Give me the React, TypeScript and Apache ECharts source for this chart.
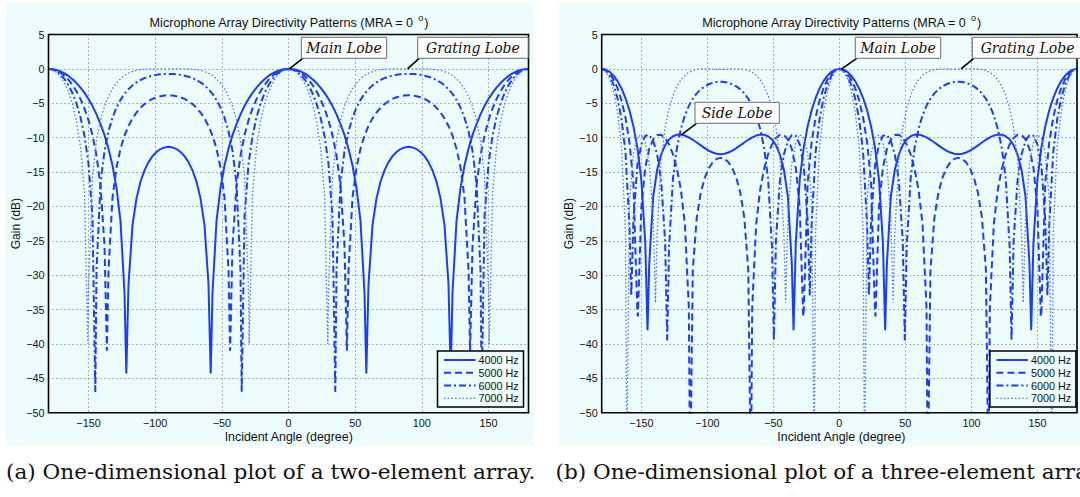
import React, { useEffect, useRef } from "react";
import * as echarts from "echarts";

// Sample angles (degrees)
const ANGLES = [
  -180, -177, -174, -171, -168, -165, -162, -159, -156, -153, -150, -147, -144, -141, -138, -135, -132, -129, -126, -123, -120,
  -117, -114, -111, -108, -105, -102, -99, -96, -93, -90, -87, -84, -81, -78, -75, -72, -69, -66, -63, -60,
  -57, -54, -51, -48, -45, -42, -39, -36, -33, -30, -27, -24, -21, -18, -15, -12, -9, -6, -3, 0,
  3, 6, 9, 12, 15, 18, 21, 24, 27, 30, 33, 36, 39, 42, 45, 48, 51, 54, 57, 60,
  63, 66, 69, 72, 75, 78, 81, 84, 87, 90, 93, 96, 99, 102, 105, 108, 111, 114, 117, 120,
  123, 126, 129, 132, 135, 138, 141, 144, 147, 150, 153, 156, 159, 162, 165, 168, 171, 174, 177, 180,
];

const FREQ_LABELS = ["4000 Hz", "5000 Hz", "6000 Hz", "7000 Hz"];
const TICK_Y = [5, 0, -5, -10, -15, -20, -25, -30, -35, -40, -45, -50];

// ---------- (a) two-element array, gain in dB ----------
const TWO_4000 = [
  0, -0.04, -0.16, -0.37, -0.66, -1.03, -1.5, -2.06, -2.72, -3.49, -4.39, -5.41, -6.61, -8.02, -9.63, -11.61, -14.05, -17.3, -22.15, -32.6, -31.36, -22.73, -18.83, -16.42, -14.76, -13.56, -12.69, -12.08, -11.66, -11.42, -11.34,
  -11.42, -11.66, -12.08, -12.69, -13.56, -14.76, -16.42, -18.83, -22.73, -31.36, -32.6, -22.15, -17.3, -14.05, -11.61, -9.63, -8.02, -6.61, -5.41, -4.39, -3.49, -2.72, -2.06, -1.5, -1.03, -0.66, -0.37, -0.16, -0.04, 0,
  -0.04, -0.16, -0.37, -0.66, -1.03, -1.5, -2.06, -2.72, -3.49, -4.39, -5.41, -6.61, -8.02, -9.63, -11.61, -14.05, -17.3, -22.15, -32.6, -31.36, -22.73, -18.83, -16.42, -14.76, -13.56, -12.69, -12.08, -11.66, -11.42, -11.34,
  -11.42, -11.66, -12.08, -12.69, -13.56, -14.76, -16.42, -18.83, -22.73, -31.36, -32.6, -22.15, -17.3, -14.05, -11.61, -9.63, -8.02, -6.61, -5.41, -4.39, -3.49, -2.72, -2.06, -1.5, -1.03, -0.66, -0.37, -0.16, -0.04, 0,
];
const TWO_5000 = [
  0, -0.06, -0.25, -0.56, -1.01, -1.59, -2.34, -3.26, -4.4, -5.77, -7.48, -9.67, -12.61, -16.97, -25.71, -29.28, -18.72, -14.33, -11.61, -9.71, -8.3, -7.2, -6.34, -5.66, -5.12, -4.7, -4.37, -4.13, -3.97, -3.87, -3.84,
  -3.87, -3.97, -4.13, -4.37, -4.7, -5.12, -5.66, -6.34, -7.2, -8.3, -9.71, -11.61, -14.33, -18.72, -29.28, -25.71, -16.97, -12.61, -9.67, -7.48, -5.77, -4.4, -3.26, -2.34, -1.59, -1.01, -0.56, -0.25, -0.06, 0,
  -0.06, -0.25, -0.56, -1.01, -1.59, -2.34, -3.26, -4.4, -5.77, -7.48, -9.67, -12.61, -16.97, -25.71, -29.28, -18.72, -14.33, -11.61, -9.71, -8.3, -7.2, -6.34, -5.66, -5.12, -4.7, -4.37, -4.13, -3.97, -3.87, -3.84,
  -3.87, -3.97, -4.13, -4.37, -4.7, -5.12, -5.66, -6.34, -7.2, -8.3, -9.71, -11.61, -14.33, -18.72, -29.28, -25.71, -16.97, -12.61, -9.67, -7.48, -5.77, -4.4, -3.26, -2.34, -1.59, -1.01, -0.56, -0.25, -0.06, 0,
];
const TWO_6000 = [
  0, -0.09, -0.36, -0.82, -1.48, -2.38, -3.55, -5.06, -7.05, -9.75, -13.81, -21.54, -29.4, -16.67, -11.93, -9.07, -7.1, -5.63, -4.51, -3.63, -2.95, -2.4, -1.97, -1.62, -1.35, -1.14, -0.99, -0.87, -0.79, -0.75, -0.73,
  -0.75, -0.79, -0.87, -0.99, -1.14, -1.35, -1.62, -1.97, -2.4, -2.95, -3.63, -4.51, -5.63, -7.1, -9.07, -11.93, -16.67, -29.4, -21.54, -13.81, -9.75, -7.05, -5.06, -3.55, -2.38, -1.48, -0.82, -0.36, -0.09, 0,
  -0.09, -0.36, -0.82, -1.48, -2.38, -3.55, -5.06, -7.05, -9.75, -13.81, -21.54, -29.4, -16.67, -11.93, -9.07, -7.1, -5.63, -4.51, -3.63, -2.95, -2.4, -1.97, -1.62, -1.35, -1.14, -0.99, -0.87, -0.79, -0.75, -0.73,
  -0.75, -0.79, -0.87, -0.99, -1.14, -1.35, -1.62, -1.97, -2.4, -2.95, -3.63, -4.51, -5.63, -7.1, -9.07, -11.93, -16.67, -29.4, -21.54, -13.81, -9.75, -7.05, -5.06, -3.55, -2.38, -1.48, -0.82, -0.36, -0.09, 0,
];
const TWO_7000 = [
  0, -0.12, -0.49, -1.13, -2.07, -3.37, -5.16, -7.64, -11.38, -18.26, -32.32, -15.61, -10.47, -7.48, -5.45, -3.99, -2.89, -2.07, -1.44, -0.96, -0.63, -0.39, -0.23, -0.12, -0.05, -0.02, 0, 0, 0, -0.01, -0.01,
  -0.01, 0, 0, 0, -0.02, -0.05, -0.12, -0.23, -0.39, -0.63, -0.96, -1.44, -2.07, -2.89, -3.99, -5.45, -7.48, -10.47, -15.61, -32.32, -18.26, -11.38, -7.64, -5.16, -3.37, -2.07, -1.13, -0.49, -0.12, 0,
  -0.12, -0.49, -1.13, -2.07, -3.37, -5.16, -7.64, -11.38, -18.26, -32.32, -15.61, -10.47, -7.48, -5.45, -3.99, -2.89, -2.07, -1.44, -0.96, -0.63, -0.39, -0.23, -0.12, -0.05, -0.02, 0, 0, 0, -0.01, -0.01,
  -0.01, 0, 0, 0, -0.02, -0.05, -0.12, -0.23, -0.39, -0.63, -0.96, -1.44, -2.07, -2.89, -3.99, -5.45, -7.48, -10.47, -15.61, -32.32, -18.26, -11.38, -7.64, -5.16, -3.37, -2.07, -1.13, -0.49, -0.12, 0,
];
// deepest points of the nulls
const TWO_4000_NULL_ANGLES = [-121.65, -58.35, 58.35, 121.65];
const TWO_4000_NULL_GAIN = [-44.3, -44.3, -44.3, -44.3];
const TWO_5000_NULL_ANGLES = [-136.2, -43.8, 43.8, 136.2];
const TWO_5000_NULL_GAIN = [-41, -41, -41, -41];
const TWO_6000_NULL_ANGLES = [-144.9, -35.1, 35.1, 144.9];
const TWO_6000_NULL_GAIN = [-47, -47, -47, -47];
const TWO_7000_NULL_ANGLES = [-150.5, -29.5, 29.5, 150.5];
const TWO_7000_NULL_GAIN = [-40, -40, -40, -40];

// ---------- (b) three-element array, gain in dB ----------
const THREE_4000 = [
  0, -0.11, -0.43, -0.99, -1.78, -2.85, -4.24, -6.02, -8.33, -11.45, -16.09, -25.34, -28.39, -18.57, -14.67, -12.47, -11.11, -10.26, -9.79, -9.57, -9.56, -9.7, -9.96, -10.31, -10.71, -11.12, -11.53, -11.88, -12.16, -12.34, -12.4,
  -12.34, -12.16, -11.88, -11.53, -11.12, -10.71, -10.31, -9.96, -9.7, -9.56, -9.57, -9.79, -10.26, -11.11, -12.47, -14.67, -18.57, -28.39, -25.34, -16.09, -11.45, -8.33, -6.02, -4.24, -2.85, -1.78, -0.99, -0.43, -0.11, 0,
  -0.11, -0.43, -0.99, -1.78, -2.85, -4.24, -6.02, -8.33, -11.45, -16.09, -25.34, -28.39, -18.57, -14.67, -12.47, -11.11, -10.26, -9.79, -9.57, -9.56, -9.7, -9.96, -10.31, -10.71, -11.12, -11.53, -11.88, -12.16, -12.34, -12.4,
  -12.34, -12.16, -11.88, -11.53, -11.12, -10.71, -10.31, -9.96, -9.7, -9.56, -9.57, -9.79, -10.26, -11.11, -12.47, -14.67, -18.57, -28.39, -25.34, -16.09, -11.45, -8.33, -6.02, -4.24, -2.85, -1.78, -0.99, -0.43, -0.11, 0,
];
const THREE_5000 = [
  0, -0.17, -0.67, -1.53, -2.81, -4.6, -7.08, -10.65, -16.53, -35.5, -20.16, -14.34, -11.64, -10.24, -9.63, -9.59, -10.05, -10.99, -12.44, -14.54, -17.61, -22.56, -34.71, -29.21, -21.63, -18.04, -15.88, -14.48, -13.59, -13.09, -12.94,
  -13.09, -13.59, -14.48, -15.88, -18.04, -21.63, -29.21, -34.71, -22.56, -17.61, -14.54, -12.44, -10.99, -10.05, -9.59, -9.63, -10.24, -11.64, -14.34, -20.16, -35.5, -16.53, -10.65, -7.08, -4.6, -2.81, -1.53, -0.67, -0.17, 0,
  -0.17, -0.67, -1.53, -2.81, -4.6, -7.08, -10.65, -16.53, -35.5, -20.16, -14.34, -11.64, -10.24, -9.63, -9.59, -10.05, -10.99, -12.44, -14.54, -17.61, -22.56, -34.71, -29.21, -21.63, -18.04, -15.88, -14.48, -13.59, -13.09, -12.94,
  -13.09, -13.59, -14.48, -15.88, -18.04, -21.63, -29.21, -34.71, -22.56, -17.61, -14.54, -12.44, -10.99, -10.05, -9.59, -9.63, -10.24, -11.64, -14.34, -20.16, -35.5, -16.53, -10.65, -7.08, -4.6, -2.81, -1.53, -0.67, -0.17, 0,
];
const THREE_6000 = [
  0, -0.24, -0.99, -2.29, -4.3, -7.31, -12.12, -22.67, -22.08, -14, -10.97, -9.73, -9.62, -10.47, -12.43, -16.16, -24.91, -25.93, -15.91, -11.47, -8.7, -6.78, -5.38, -4.34, -3.56, -2.98, -2.55, -2.24, -2.03, -1.91, -1.88,
  -1.91, -2.03, -2.24, -2.55, -2.98, -3.56, -4.34, -5.38, -6.78, -8.7, -11.47, -15.91, -25.93, -24.91, -16.16, -12.43, -10.47, -9.62, -9.73, -10.97, -14, -22.08, -22.67, -12.12, -7.31, -4.3, -2.29, -0.99, -0.24, 0,
  -0.24, -0.99, -2.29, -4.3, -7.31, -12.12, -22.67, -22.08, -14, -10.97, -9.73, -9.62, -10.47, -12.43, -16.16, -24.91, -25.93, -15.91, -11.47, -8.7, -6.78, -5.38, -4.34, -3.56, -2.98, -2.55, -2.24, -2.03, -1.91, -1.88,
  -1.91, -2.03, -2.24, -2.55, -2.98, -3.56, -4.34, -5.38, -6.78, -8.7, -11.47, -15.91, -25.93, -24.91, -16.16, -12.43, -10.47, -9.62, -9.73, -10.97, -14, -22.08, -22.67, -12.12, -7.31, -4.3, -2.29, -0.99, -0.24, 0,
];
const THREE_7000 = [
  0, -0.33, -1.36, -3.21, -6.21, -11.28, -23.65, -19.08, -12.33, -10, -9.58, -10.7, -13.78, -21.75, -23.94, -13.2, -8.58, -5.75, -3.85, -2.52, -1.59, -0.94, -0.51, -0.25, -0.09, -0.02, 0, -0.01, -0.03, -0.05, -0.05,
  -0.05, -0.03, -0.01, 0, -0.02, -0.09, -0.25, -0.51, -0.94, -1.59, -2.52, -3.85, -5.75, -8.58, -13.2, -23.94, -21.75, -13.78, -10.7, -9.58, -10, -12.33, -19.08, -23.65, -11.28, -6.21, -3.21, -1.36, -0.33, 0,
  -0.33, -1.36, -3.21, -6.21, -11.28, -23.65, -19.08, -12.33, -10, -9.58, -10.7, -13.78, -21.75, -23.94, -13.2, -8.58, -5.75, -3.85, -2.52, -1.59, -0.94, -0.51, -0.25, -0.09, -0.02, 0, -0.01, -0.03, -0.05, -0.05,
  -0.05, -0.03, -0.01, 0, -0.02, -0.09, -0.25, -0.51, -0.94, -1.59, -2.52, -3.85, -5.75, -8.58, -13.2, -23.94, -21.75, -13.78, -10.7, -9.58, -10, -12.33, -19.08, -23.65, -11.28, -6.21, -3.21, -1.36, -0.33, 0,
];
const THREE_4000_NULL_ANGLES = [-145.3, -34.7, 34.7, 145.3];
const THREE_4000_NULL_GAIN = [-38, -38, -38, -38];
const THREE_5000_NULL_ANGLES = [-152.6, -113, -67, -27.4, 27.4, 67, 113, 152.6];
const THREE_5000_NULL_GAIN = [-36, -60, -60, -36, -36, -60, -60, -36];
const THREE_6000_NULL_ANGLES = [-157.6, -130.4, -49.6, -22.4, 22.4, 49.6, 130.4, 157.6];
const THREE_6000_NULL_GAIN = [-33, -39.5, -39.5, -33, -33, -39.5, -39.5, -33];
const THREE_7000_NULL_ANGLES = [-160.96, -139.27, -40.73, -19.04, 19.04, 40.73, 139.27, 160.96];
const THREE_7000_NULL_GAIN = [-58, -34, -34, -58, -58, -34, -34, -58];

const BLUE = "#1b3cff";
const LIGHT_BLUE = "#4f70ff";
const PANEL = "#edfdfd";
const SANS = "Liberation Sans, Arial, Helvetica, sans-serif";
const SERIF = "DejaVu Serif, serif";

function buildData(gains: number[], nullAngles: number[], nullGains: number[]) {
  const pts: number[][] = ANGLES.map((a, i) => [a, gains[i]]);
  nullAngles.forEach((a, i) => pts.push([a, nullGains[i]]));
  pts.sort((p, q) => p[0] - q[0]);
  return pts;
}

const LINE_STYLES = [
  { type: "solid" as any, width: 2, color: BLUE },
  { type: [7, 4] as any, width: 2, color: BLUE },
  { type: [7, 3, 2, 3] as any, width: 2, color: BLUE },
  { type: [1.5, 2.2] as any, width: 1.3, color: LIGHT_BLUE },
];

const fmt = (v: number) => (Math.abs(v) === 180 ? "" : v < 0 ? "\u2212" + Math.abs(v) : String(v));

function panelGraphics(dx: number, cap: string, plotCx: number, yLabelX: number) {
  const els: any[] = [];
  // title
  els.push({
    type: "text",
    x: plotCx,
    y: 22.5,
    z: 50,
    style: {
      text: "{n|Microphone Array Directivity Patterns (MRA = 0 }{s|o}{n|)}",
      textAlign: "center",
      textVerticalAlign: "middle",
      rich: {
        n: { fontSize: 12.6, fontFamily: SANS, fill: "#111" },
        s: { fontSize: 9, fontFamily: SANS, fill: "#111", padding: [0, 1, 9, 1] },
      },
    },
  });
  // axis names
  els.push({
    type: "text",
    x: plotCx,
    y: 436.5,
    z: 50,
    style: { text: "Incident Angle (degree)", fontSize: 12.4, fontFamily: SANS, fill: "#111", textAlign: "center", textVerticalAlign: "middle" },
  });
  els.push({
    type: "text",
    x: yLabelX,
    y: 223.6,
    rotation: Math.PI / 2,
    z: 50,
    style: { text: "Gain (dB)", fontSize: 12, fontFamily: SANS, fill: "#111", textAlign: "center", textVerticalAlign: "middle" },
  });
  // legend
  const lx = 437.5 + dx;
  els.push({ type: "rect", z: 60, shape: { x: lx, y: 351, width: 86, height: 56 }, style: { fill: PANEL, stroke: "#000", lineWidth: 1.5 } });
  const rows = [360, 372.8, 385.6, 398.4];
  FREQ_LABELS.forEach((lab, i) => {
    const ls = LINE_STYLES[i];
    els.push({
      type: "line",
      z: 61,
      shape: { x1: lx + 6.5, y1: rows[i], x2: lx + 38, y2: rows[i] },
      style: { stroke: ls.color, lineWidth: ls.width, lineDash: Array.isArray(ls.type) ? ls.type : null },
    });
    els.push({
      type: "text",
      z: 61,
      x: lx + 41,
      y: rows[i],
      style: { text: lab, fontSize: 10.8, fontFamily: SANS, fill: "#111", textAlign: "left", textVerticalAlign: "middle" },
    });
  });
  // caption
  els.push({
    type: "text",
    x: dx === 0 ? 6 : 555.5,
    y: 472,
    z: 50,
    scaleX: 1.08,
    style: { text: cap, fontSize: 20, fontFamily: SERIF, fill: "#111", textAlign: "left", textVerticalAlign: "middle" },
  });
  return els;
}

function callout(bx: number, by: number, bw: number, label: string, tx: number, ty: number) {
  return [
    { type: "line", z: 70, shape: { x1: bx + 1.5, y1: by + 21, x2: tx, y2: ty }, style: { stroke: "#000", lineWidth: 1.6 } },
    { type: "rect", z: 71, shape: { x: bx, y: by, width: bw, height: 21 }, style: { fill: "#ffffff", stroke: "#6b6b6b", lineWidth: 1 } },
    {
      type: "text",
      z: 72,
      x: bx + bw / 2,
      y: by + 10.8,
      style: { text: label, fontSize: 14, fontStyle: "italic", fontFamily: SERIF, fill: "#111", textAlign: "center", textVerticalAlign: "middle" },
    },
  ];
}

function axisPair(gridIndex: number) {
  const x = {
    type: "value",
    gridIndex,
    min: -180,
    max: 180,
    splitNumber: 7,
    axisLine: { show: false },
    axisTick: { show: false },
    axisLabel: { formatter: fmt, fontSize: 10.8, fontFamily: SANS, color: "#111", margin: 5 },
    splitLine: { show: true, lineStyle: { type: [1, 3], color: "#666666", width: 1 } },
  };
  const y = {
    type: "value",
    gridIndex,
    min: TICK_Y[TICK_Y.length - 1],
    max: TICK_Y[0],
    interval: 5,
    axisLine: { show: false },
    axisTick: { show: false },
    axisLabel: { formatter: fmt, fontSize: 10.8, fontFamily: SANS, color: "#111", margin: 4 },
    splitLine: { show: true, lineStyle: { type: [1, 3], color: "#666666", width: 1 } },
  };
  return { x, y };
}

export default function App() {
  const ref = useRef<HTMLDivElement>(null);
  useEffect(() => {
    if (!ref.current) return;
    const chart = echarts.init(ref.current, undefined, { renderer: "svg" });
    const a0 = axisPair(0);
    const a1 = axisPair(1);
    const twoSets = [
      buildData(TWO_4000, TWO_4000_NULL_ANGLES, TWO_4000_NULL_GAIN),
      buildData(TWO_5000, TWO_5000_NULL_ANGLES, TWO_5000_NULL_GAIN),
      buildData(TWO_6000, TWO_6000_NULL_ANGLES, TWO_6000_NULL_GAIN),
      buildData(TWO_7000, TWO_7000_NULL_ANGLES, TWO_7000_NULL_GAIN),
    ];
    const threeSets = [
      buildData(THREE_4000, THREE_4000_NULL_ANGLES, THREE_4000_NULL_GAIN),
      buildData(THREE_5000, THREE_5000_NULL_ANGLES, THREE_5000_NULL_GAIN),
      buildData(THREE_6000, THREE_6000_NULL_ANGLES, THREE_6000_NULL_GAIN),
      buildData(THREE_7000, THREE_7000_NULL_ANGLES, THREE_7000_NULL_GAIN),
    ];
    const series: any[] = [];
    [twoSets, threeSets].forEach((sets, gi) => {
      sets.forEach((data, i) => {
        series.push({
          type: "line",
          name: FREQ_LABELS[i],
          xAxisIndex: gi,
          yAxisIndex: gi,
          data,
          showSymbol: false,
          symbol: "none",
          clip: true,
          lineStyle: { ...LINE_STYLES[i] },
          emphasis: { disabled: true },
          z: 3,
        });
      });
    });
    const graphics: any[] = [
      { type: "rect", z: -10, shape: { x: 6, y: 3, width: 527, height: 443 }, style: { fill: PANEL } },
      { type: "rect", z: -10, shape: { x: 559, y: 3, width: 530, height: 443 }, style: { fill: PANEL } },
      ...panelGraphics(0, "(a) One-dimensional plot of a two-element array.", 288.7, 16),
      ...panelGraphics(552.4, "(b) One-dimensional plot of a three-element array.", 841.4, 569),
      ...callout(301.3, 37.3, 85.4, "Main Lobe", 289.3, 68.9),
      ...callout(417.7, 37.3, 110.5, "Grating Lobe", 407.5, 68.9),
      ...callout(855.3, 37.3, 85.4, "Main Lobe", 841.7, 68.9),
      ...callout(972.3, 37.3, 110.5, "Grating Lobe", 961, 68.9),
      ...callout(695, 102.3, 84.3, "Side Lobe", 681.7, 134.6),
    ];
    chart.setOption({
      animation: false,
      backgroundColor: "#ffffff",
      grid: [
        { left: 48.5, top: 34.5, width: 480, height: 378.2, show: true, borderColor: "#000", borderWidth: 1.6, backgroundColor: "transparent", z: 4 },
        { left: 601.7, top: 34.5, width: 480, height: 378.2, show: true, borderColor: "#000", borderWidth: 1.6, backgroundColor: "transparent", z: 4 },
      ],
      xAxis: [a0.x, a1.x],
      yAxis: [a0.y, a1.y],
      series,
      graphic: { elements: graphics },
    });
    return () => chart.dispose();
  }, []);
  return (
    <div
      ref={ref}
      style={{ position: "absolute", left: 0, top: 0, width: 1080, height: 497, background: "#fff" }}
    />
  );
}
